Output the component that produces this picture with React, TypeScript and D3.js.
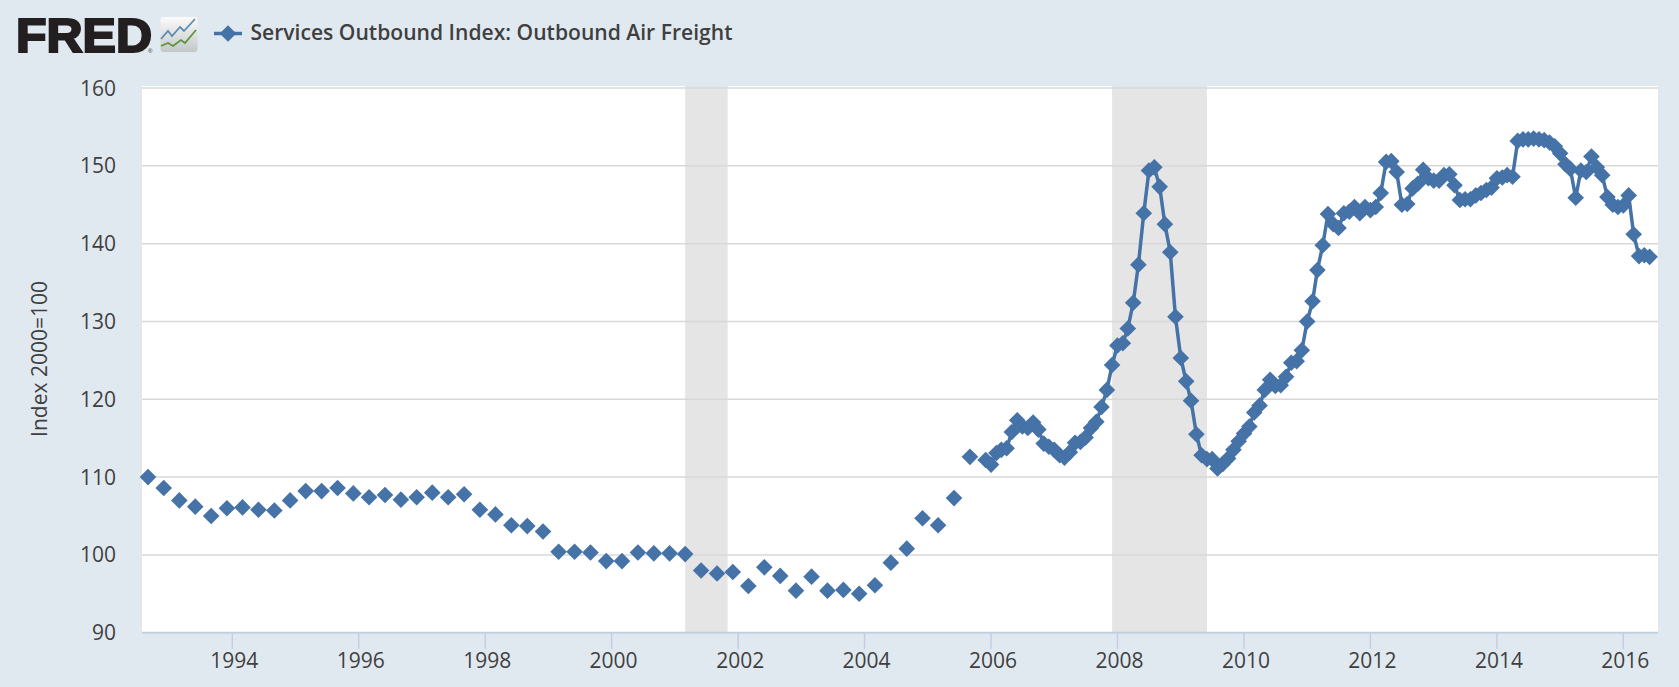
import React from "react";
import * as d3 from "d3";

const W = 1679, H = 687;
const M = { left: 142, right: 1658, top: 86, bottom: 632.7 };

const quarterlyStart = [1992, 8]; // Sep 1992, every 3 months
const quarterlyValues = [
  110, 108.6, 107, 106.2, 105, 106, 106.1, 105.8, 105.7, 107, 108.2, 108.2, 108.6, 107.9, 107.4, 107.7,
  107.1, 107.4, 108, 107.4, 107.8, 105.8, 105.2, 103.8, 103.7, 103, 100.4, 100.4, 100.3, 99.2, 99.2, 100.3,
  100.2, 100.2, 100.1, 98, 97.6, 97.8, 96, 98.4, 97.3, 95.4, 97.2, 95.4, 95.5, 95, 96.1, 99,
  100.8, 104.7, 103.8, 107.3, 112.6,
];
const monthlyStart = [2005, 11]; // Dec 2005, every month
const monthlyValues = [
  112.2,
  111.6, 113.1, 113.5, 113.7, 115.8, 117.3, 116.5, 116.3, 117, 116.1, 114.3, 113.9,
  113.5, 112.8, 112.5, 113.2, 114.4, 114.5, 115.1, 116.3, 117.1, 119, 121.2, 124.4,
  126.9, 127.2, 129.1, 132.4, 137.3, 143.9, 149.4, 149.8, 147.3, 142.5, 138.9, 130.6,
  125.3, 122.3, 119.8, 115.5, 112.8, 112.3, 112.3, 111.1, 111.7, 112.4, 113.5, 114.6,
  115.6, 116.5, 118.3, 119.2, 121.2, 122.5, 121.7, 121.8, 122.9, 124.7, 124.9, 126.3,
  130, 132.6, 136.6, 139.8, 143.8, 142.5, 142, 143.9, 144.1, 144.7, 143.9, 144.7,
  144.3, 144.7, 146.5, 150.5, 150.6, 149.2, 145, 145.1, 147.1, 147.7, 149.5, 148.4,
  148.1, 148.1, 148.8, 148.9, 147.5, 145.6, 145.7, 145.7, 146.2, 146.5, 146.9, 147.2,
  148.4, 148.5, 148.8, 148.6, 153.2, 153.4, 153.4, 153.5, 153.4, 153.3, 153, 152.5,
  151.6, 150.2, 149.6, 145.9, 149.4, 149.2, 151.2, 149.8, 148.8, 146, 145, 144.7,
  144.9, 146.2, 141.2, 138.4, 138.5, 138.3,
];
const recessions = [
  ["2001-03-01", "2001-11-01"],
  ["2007-12-01", "2009-06-01"],
];
const yTicks = [90, 100, 110, 120, 130, 140, 150, 160];
const xTickYears = [1994, 1996, 1998, 2000, 2002, 2004, 2006, 2008, 2010, 2012, 2014, 2016];
const title = "Services Outbound Index: Outbound Air Freight";
const yTitle = "Index 2000=100";

const BLUE = "#4572a7";
const TXT = "#3f3f3f";
const FONT = "'Open Sans', sans-serif";

const dt = (y: number, m: number) => new Date(Date.UTC(y, m, 1));
const quarterly = quarterlyValues.map((v, i) => ({ d: dt(quarterlyStart[0], quarterlyStart[1] + 3 * i), v }));
const monthly = monthlyValues.map((v, i) => ({ d: dt(monthlyStart[0], monthlyStart[1] + i), v }));

// Axis endpoints calibrated on the 1994 and 2016 tick marks.
const x = d3.scaleUtc()
  .domain([dt(1994, 0), dt(2016, 0)])
  .range([232.3, 1623.3]);
const y = d3.scaleLinear().domain([90, 160]).range([M.bottom, 88]);

const linePath = d3.line<{ d: Date; v: number }>().x((p) => x(p.d)).y((p) => y(p.v))(monthly) ?? "";
const diamond = d3.symbol().type(d3.symbolSquare).size(138)() ?? "";

export default function App() {
  return (
    <svg
      width={W}
      height={H}
      viewBox={`0 0 ${W} ${H}`}
      style={{ position: "absolute", left: 0, top: 0, display: "block", background: "#e1e9f0" }}
    >
      <defs>
        <linearGradient id="ico" x1="0" y1="0" x2="0" y2="1">
          <stop offset="0" stopColor="#fbfbfb" />
          <stop offset="1" stopColor="#c4c7c8" />
        </linearGradient>
      </defs>

      {/* logo */}
      <text
        x={16}
        y={52}
        fontFamily="'Liberation Sans', Arial, sans-serif"
        fontWeight={700}
        fontSize={48}
        textLength={136}
        lengthAdjust="spacingAndGlyphs"
        fill="#231f20"
        stroke="#231f20"
        strokeWidth={2.2}
      >
        FRED
      </text>
      <text x={148} y={53} fontSize={6} fontFamily="'Liberation Sans', sans-serif" fill="#231f20">®</text>
      <rect x={160.5} y={17} width={37} height={35} rx={3} fill="url(#ico)" />
      <polyline points="161,39 168,31 172,36 180,27 184,31 195,19" fill="none" stroke="#5d8cb0" strokeWidth={1.8} />
      <polyline points="161,46 168,43 173,46 181,40 185,43 196,30" fill="none" stroke="#5c9440" strokeWidth={1.8} />

      {/* legend */}
      <line x1={214} x2={242} y1={33.5} y2={33.5} stroke={BLUE} strokeWidth={3.5} />
      <path d={diamond} transform="translate(228,33.5) rotate(45)" fill={BLUE} />
      <text
        x={250.5}
        y={40}
        fontFamily={FONT}
        fontSize={21}
        fontWeight={600}
        textLength={482}
        lengthAdjust="spacingAndGlyphs"
        fill={TXT}
      >
        {title}
      </text>

      {/* plot */}
      <rect x={M.left} y={M.top} width={M.right - M.left} height={M.bottom - M.top} fill="#ffffff" />
      {recessions.map(([a, b]) => (
        <rect
          key={a}
          x={x(new Date(a))}
          y={M.top}
          width={x(new Date(b)) - x(new Date(a))}
          height={M.bottom - M.top}
          fill="#e5e5e5"
        />
      ))}
      {yTicks.filter((t) => t !== 90).map((t) => (
        <line key={t} x1={M.left} x2={M.right} y1={y(t)} y2={y(t)} stroke="#d8d8d8" strokeWidth={1.5} />
      ))}
      <line x1={M.left} x2={M.right} y1={M.bottom} y2={M.bottom} stroke="#c0d0e0" strokeWidth={2} />
      {xTickYears.map((yr) => {
        const px = x(dt(yr, 0));
        return (
          <g key={yr}>
            <line x1={px} x2={px} y1={M.bottom} y2={649} stroke="#c0d0e0" strokeWidth={1.5} />
            <text x={px + 2} y={667.5} textAnchor="middle" fontFamily={FONT} fontSize={21} fill={TXT}>{yr}</text>
          </g>
        );
      })}
      {yTicks.map((t) => (
        <text key={t} x={116} y={y(t) + 7.5} textAnchor="end" fontFamily={FONT} fontSize={21} fill={TXT}>{t}</text>
      ))}
      <text
        transform="translate(47,359) rotate(-90)"
        textAnchor="middle"
        fontFamily={FONT}
        fontSize={21}
        fill={TXT}
      >
        {yTitle}
      </text>

      {/* series */}
      <path d={linePath} fill="none" stroke={BLUE} strokeWidth={3.5} strokeLinejoin="round" />
      {[...quarterly, ...monthly].map((p, i) => (
        <path key={i} d={diamond} transform={`translate(${x(p.d)},${y(p.v)}) rotate(45)`} fill={BLUE} />
      ))}
    </svg>
  );
}
